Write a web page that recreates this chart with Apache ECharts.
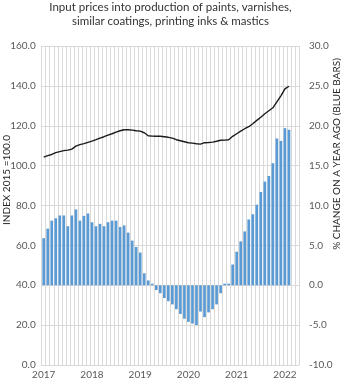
<!DOCTYPE html>
<html><head><meta charset="utf-8">
<script src="https://cdn.jsdelivr.net/npm/echarts@6/dist/echarts.min.js"></script>
<style>html,body{margin:0;padding:0;background:#fff}#c{width:341px;height:380px}</style>
</head><body><div id="c"></div>
<script>
var titleLines = ['Input prices into production of paints, varnishes,', 'similar coatings, printing inks & mastics'];
var leftAxisName = 'INDEX 2015 =100.0';
var rightAxisName = '% CHANGE ON A YEAR AGO (BLUE BARS)';
var years = ['2017','2018','2019','2020','2021','2022'];
var categories = [];
years.forEach(function(y){ for (var m=1;m<=12;m++){ if (y==='2022' && m>4) break; categories.push(y+'-'+(m<10?'0':'')+m); } });

// Index (left axis), Jan 2017 - Feb 2022
var indexValues = [
104.3,105.0,105.6,106.5,107.0,107.5,107.8,108.3,109.8,110.5,111.0,111.7,
112.3,113.0,113.8,114.5,115.3,116.0,116.8,117.5,118.0,118.0,117.8,117.5,
117.3,116.5,115.0,114.8,114.7,114.7,114.5,114.2,113.8,113.0,112.5,112.0,
111.5,111.3,111.0,110.8,111.5,111.6,111.8,112.2,112.7,112.8,113.0,114.7,
116.0,117.3,118.5,119.5,121.0,122.7,124.3,126.0,127.5,129.0,132.0,135.0,
138.5,139.8,null,null];
// % change on a year ago (right axis)
var yoyValues = [
5.9,7.1,8.1,8.4,8.75,8.75,7.4,8.75,9.5,8.1,8.7,9.0,
7.9,7.4,7.7,7.4,7.9,8.1,8.1,7.3,7.5,6.6,5.6,4.8,
4.1,1.5,0.6,0.2,-0.6,-1.0,-1.6,-2.0,-2.4,-3.0,-3.6,-4.2,
-4.6,-4.8,-5.0,-3.3,-4.0,-3.4,-3.0,-2.4,-1.0,0.2,0.2,2.6,
4.2,5.5,6.75,8.25,8.9,10.1,11.7,13.0,13.7,15.3,18.4,18.1,
19.7,19.5,null,null];

var FONT = 'Lato';
var chart = echarts.init(document.getElementById('c'), null, {renderer:'canvas'});
chart.setOption({
  animation:false,
  textStyle:{fontFamily:FONT},
  grid:{left:41.7, right:42, top:46, bottom:14, containLabel:false},
  graphic:[
    {type:'text', x:170.5, y:7, style:{text:titleLines[0], font:'11.5px '+FONT, fill:'#333', align:'center', verticalAlign:'middle'}},
    {type:'text', x:170.5, y:21, style:{text:titleLines[1], font:'11.5px '+FONT, fill:'#333', align:'center', verticalAlign:'middle'}},
    {type:'text', x:7, y:180, rotation:Math.PI/2, style:{text:leftAxisName, font:'10px '+FONT, fill:'#262626', align:'center', verticalAlign:'middle'}},
    {type:'text', x:337, y:154, rotation:Math.PI/2, style:{text:rightAxisName, font:'10px '+FONT, fill:'#262626', align:'center', verticalAlign:'middle'}}
  ],
  xAxis:{
    type:'category', data:categories, boundaryGap:true,
    axisLine:{show:true, lineStyle:{color:'#d9d9d9'}},
    axisTick:{show:false},
    axisLabel:{interval:function(i){return i%12===0;}, formatter:function(v){return v.slice(0,4);}, color:'#595959', fontSize:10, margin:5},
    splitLine:{show:true, interval:0, lineStyle:{color:'#d9d9d9', width:1}}
  },
  yAxis:[
    {type:'value', min:0, max:160, interval:20,
     axisLine:{show:false}, axisTick:{show:false},
     axisLabel:{formatter:function(v){return v.toFixed(1);}, color:'#595959', fontSize:10, margin:6},
     splitLine:{show:true, lineStyle:{color:'#d9d9d9', width:1}}},
    {type:'value', min:-10, max:30, interval:5, position:'right',
     axisLine:{show:false}, axisTick:{show:false},
     axisLabel:{formatter:function(v){return v.toFixed(1);}, color:'#595959', fontSize:10, margin:10},
     splitLine:{show:false}}
  ],
  series:[
    {type:'bar', yAxisIndex:1, data:yoyValues, barWidth:2.7, itemStyle:{color:'#5B9BD5'}},
    {type:'line', yAxisIndex:0, data:indexValues, showSymbol:false, symbol:'none', lineStyle:{color:'#1a1a1a', width:1.4}, z:5}
  ]
});
</script></body></html>
